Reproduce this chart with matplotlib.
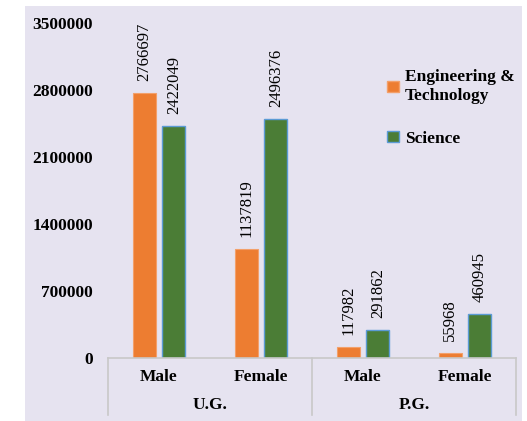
import matplotlib
matplotlib.use("Agg")
import matplotlib.pyplot as plt
from matplotlib.patches import Rectangle, Patch
import matplotlib.transforms as mtransforms

levels = ["U.G.", "P.G."]
genders = ["Male", "Female", "Male", "Female"]
eng_tech = [2766697, 1137819, 117982, 55968]
science = [2422049, 2496376, 291862, 460945]
yticks = [0, 700000, 1400000, 2100000, 2800000, 3500000]

ORANGE = "#ED7D31"
GREEN = "#4B7D36"
BG = "#E6E3F0"
SERIF = "Liberation Serif"

fig = plt.figure(figsize=(5.27, 4.21), dpi=100)
fig.patch.set_facecolor("white")
fig.patches.append(Rectangle((25 / 527, 0), 497 / 527, 415 / 421, transform=fig.transFigure,
                             facecolor=BG, edgecolor="none", zorder=-10))

ax = fig.add_axes([108 / 527, 1 - 358 / 421, 408 / 527, 335 / 421])
ax.set_facecolor("none")

x = list(range(len(genders)))
w = 0.225
off = 0.145
b1 = ax.bar([i - off for i in x], eng_tech, width=w, color=ORANGE, edgecolor="#F3A06A", linewidth=0.8)
b2 = ax.bar([i + off for i in x], science, width=w, color=GREEN, edgecolor="#5B9BD5", linewidth=1.0)

for bars, vals in ((b1, eng_tech), (b2, science)):
    for rect, v in zip(bars, vals):
        ax.annotate(f"{v}", (rect.get_x() + rect.get_width() / 2, v), xytext=(0, 8.5),
                    textcoords="offset points", rotation=90, ha="center", va="bottom",
                    fontsize=12, family=SERIF, color="black")

ax.set_xlim(-0.5, 3.5)
ax.set_ylim(0, 3500000)
ax.set_yticks(yticks)
ax.set_yticklabels([str(t) for t in yticks], fontsize=12.5, fontweight="bold", family=SERIF)
ax.tick_params(axis="y", length=0, pad=11)
ax.set_xticks([])
for s in ("top", "right", "left"):
    ax.spines[s].set_visible(False)
ax.spines["bottom"].set_color("#C8C8C8")
ax.spines["bottom"].set_linewidth(1.2)

tr = mtransforms.blended_transform_factory(ax.transData, ax.transAxes)
for xs in (-0.5, 1.5, 3.5):
    ax.plot([xs, xs], [0, -0.17], transform=tr, color="#C8C8C8", lw=1.2, clip_on=False)
for i, g in enumerate(genders):
    ax.text(i, -0.057, g, transform=tr, ha="center", va="center", fontsize=12.5,
            fontweight="bold", family=SERIF)
for j, lv in enumerate(levels):
    ax.text(0.5 + 2 * j, -0.14, lv, transform=tr, ha="center", va="center", fontsize=12.5,
            fontweight="bold", family=SERIF)

handles = [Patch(facecolor=ORANGE, edgecolor="#F3A06A"), Patch(facecolor=GREEN, edgecolor="#5B9BD5")]
leg = ax.legend(handles, ["Engineering &\nTechnology", "Science"], loc="upper left",
                bbox_to_anchor=(0.685, 0.862), frameon=False, handlelength=0.65, handleheight=0.65,
                handletextpad=0.35, labelspacing=1.55, borderaxespad=0, borderpad=0,
                prop={"family": SERIF, "weight": "bold", "size": 12.5})

fig.savefig("out.png", dpi=100)
